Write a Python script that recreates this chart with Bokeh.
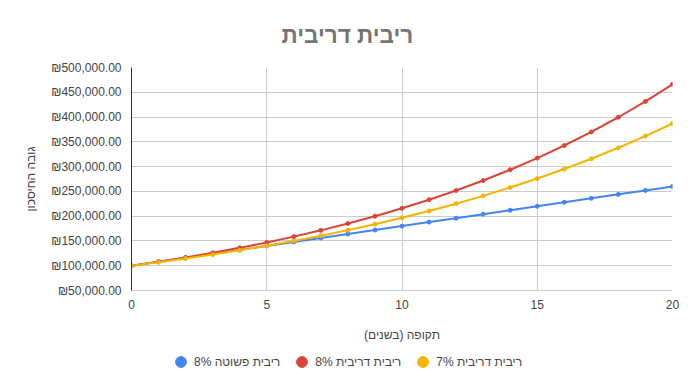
from bokeh.plotting import figure
from bokeh.layouts import column
from bokeh.models import (Legend, LegendItem, CustomJSTickFormatter,
                          FixedTicker, Range1d)
from bokeh.embed import file_html
from bokeh.resources import INLINE

# ---- data ----
years = list(range(0, 21))
simple_8 = [100000, 108000, 116000, 124000, 132000, 140000, 148000, 156000,
            164000, 172000, 180000, 188000, 196000, 204000, 212000, 220000,
            228000, 236000, 244000, 252000, 260000]
compound_8 = [100000, 108000, 116640, 125971, 136049, 146933, 158687, 171382,
              185093, 199900, 215892, 233164, 251817, 271962, 293719, 317217,
              342594, 370002, 399602, 431570, 466096]
compound_7 = [100000, 107000, 114490, 122504, 131080, 140255, 150073, 160578,
              171819, 183846, 196715, 210485, 225219, 240985, 257853, 275903,
              295216, 315882, 337993, 361653, 386968]
series_names = ["ריבית פשוטה 8%", "ריבית דריבית 8%", "ריבית דריבית 7%"]
series_colors = ["#4285F4", "#DB4437", "#F4B400"]
x_ticks = [0, 5, 10, 15, 20]
y_ticks = [50000, 100000, 150000, 200000, 250000, 300000, 350000, 400000, 450000, 500000]
title_text = "ריבית דריבית"
x_label = "תקופה (בשנים)\u200F"
y_label = "גובה החיסכון"

FONT = "Liberation Sans"
TXT = "#444444"

p = figure(width=693, height=348, output_backend="svg", toolbar_location=None,
           x_range=Range1d(0, 20), y_range=Range1d(50000, 500000),
           min_border_left=131, min_border_right=21, min_border_top=67,
           min_border_bottom=58)
p.outline_line_color = None
p.background_fill_color = "white"
p.border_fill_color = "white"

# title
p.title.text = title_text
p.title.align = "left"
p.title.offset = 150
p.title.text_font = FONT
p.title.text_font_size = "22.5px"
p.title.text_font_style = "bold"
p.title.text_color = "#757575"
p.title.standoff = 39

# axes
p.xaxis.ticker = FixedTicker(ticks=x_ticks)
p.yaxis.ticker = FixedTicker(ticks=y_ticks)
p.yaxis.formatter = CustomJSTickFormatter(code="""
return '\u20aa' + tick.toLocaleString('en-US', {minimumFractionDigits: 2, maximumFractionDigits: 2});
""")
for ax in (p.xaxis, p.yaxis):
    ax.major_tick_line_color = None
    ax.minor_tick_line_color = None
    ax.major_label_text_font = FONT
    ax.major_label_text_font_size = "12px"
    ax.major_label_text_color = TXT
    ax.axis_label_text_font = FONT
    ax.axis_label_text_font_size = "12px"
    ax.axis_label_text_font_style = "normal"
    ax.axis_label_text_color = TXT
p.yaxis.major_label_standoff = 4
p.xaxis.major_label_standoff = 3
p.yaxis.axis_line_color = "#333333"
p.xaxis.axis_line_color = "#cccccc"
p.yaxis.axis_label = y_label
p.yaxis.axis_label_standoff = 10
p.xaxis.axis_label = x_label
p.xaxis.axis_label_standoff = 16

p.xgrid.grid_line_color = "#cccccc"
p.ygrid.grid_line_color = "#cccccc"

# series
for vals, color in zip([simple_8, compound_8, compound_7], series_colors):
    p.line(years, vals, line_color=color, line_width=2)
    p.scatter(years, vals, size=4, fill_color=color, line_color=color)

# legend strip below the chart (its key renderers use the same data, out of view)
lg = figure(width=693, height=40, output_backend="svg", toolbar_location=None,
            x_range=Range1d(0, 1), y_range=Range1d(0, 1),
            x_axis_type=None, y_axis_type=None,
            min_border_left=0, min_border_right=0, min_border_top=0, min_border_bottom=0)
lg.outline_line_color = None
lg.xgrid.visible = False
lg.ygrid.visible = False
keys = [lg.scatter(years, vals, size=11, fill_color=c, line_color=c)
        for vals, c in zip([simple_8, compound_8, compound_7], series_colors)]
legend = Legend(items=[LegendItem(label=n, renderers=[r]) for n, r in zip(series_names, keys)],
                orientation="horizontal", location=(36, 13),
                glyph_width=27, glyph_height=27, label_standoff=0, spacing=8,
                padding=0, margin=0, border_line_color=None, background_fill_alpha=0,
                label_text_font=FONT, label_text_font_size="12px",
                label_text_color=TXT)
lg.add_layout(legend, "center")

open("out.html", "w", encoding="utf-8").write(file_html(column(p, lg, spacing=0), INLINE))
